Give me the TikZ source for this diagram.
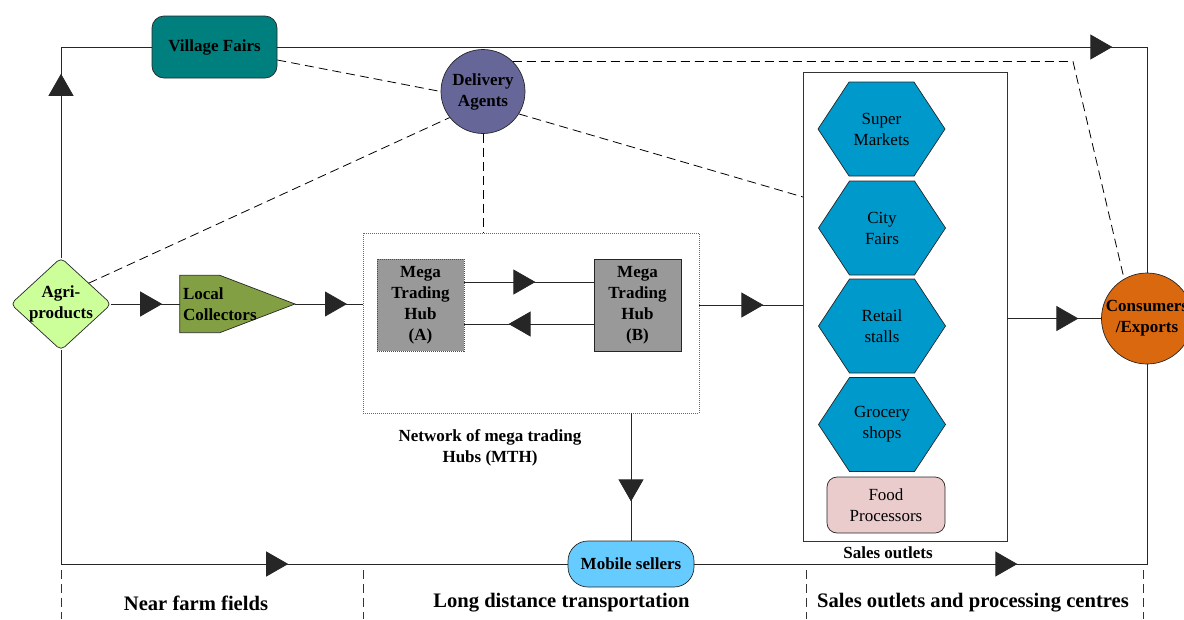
\documentclass[tikz,border=0pt]{standalone}
\usepackage{fontspec}
\setmainfont{Liberation Serif}
\usetikzlibrary{arrows.meta,decorations.markings,calc}
\pgfdeclarelayer{bg}
\pgfsetlayers{bg,main}

\definecolor{cVillage}{HTML}{007F7F}
\definecolor{cDeliv}{HTML}{666699}
\definecolor{cAgri}{HTML}{CCFF99}
\definecolor{cLocal}{HTML}{82A043}
\definecolor{cHub}{HTML}{999999}
\definecolor{cHex}{HTML}{0099CC}
\definecolor{cFood}{HTML}{EBCCCC}
\definecolor{cCons}{HTML}{DA680F}
\definecolor{cMob}{HTML}{66CCFF}
\definecolor{cTri}{HTML}{262626}

\tikzset{
  every node/.style={inner sep=0pt, font=\fontsize{17}{21}\selectfont},
  bold/.style={font=\bfseries\fontsize{17}{21}\selectfont},
  sect/.style={font=\bfseries\fontsize{20.6}{24}\selectfont},
  line/.style={draw=black!85, line width=0.8pt},
  dashline/.style={draw=black, line width=0.8pt, dash pattern=on 9pt off 5pt},
  tri at/.style={postaction={decorate}, decoration={markings,
      mark=at position #1 with {\arrow[fill=cTri,draw=cTri]{Triangle[length=22pt,width=25pt]}}}},
  shapeline/.style={draw=black!85, line width=0.7pt},
  hub/.style={bold, align=center, fill=cHub, minimum width=87pt, minimum height=92pt},
  hexa/.pic={
    \filldraw[fill=cHex, shapeline] (-63.5,0) -- (-32.5,-47) -- (32.5,-47) -- (63.5,0)
      -- (32.5,47) -- (-32.5,47) -- cycle;
    \node[align=center] (-t) {#1};
  },
}

\begin{document}
\begin{tikzpicture}[x=1pt,y=-1pt]
\useasboundingbox (0,0) rectangle (1184,619);

% ---- nodes ----
\node[bold, shapeline, fill=cVillage, rounded corners=12pt,
      minimum width=125pt, minimum height=62pt] (village) at (214.5,47) {Village Fairs};
\node[bold, shapeline, fill=cDeliv, circle, minimum size=84pt, align=center]
      (deliv) at (483,91.5) {Delivery\\Agents};

\node[bold, align=center, minimum width=100pt, minimum height=92pt] (agri) at (61,304) {Agri-\\products};
\begin{pgfonlayer}{bg}
  \filldraw[fill=cAgri, shapeline, rounded corners=5pt]
    (agri.north) -- (agri.east) -- (agri.south) -- (agri.west) -- cycle;
\end{pgfonlayer}

\node[bold, align=left, text width=109pt, minimum height=57pt] (lc) at (237.5,304) {Local\\Collectors};
\coordinate (lctip) at (295,304);
\begin{pgfonlayer}{bg}
  \filldraw[fill=cLocal, shapeline]
    ($(lc.north west)+(-3,0)$) -- ($(lc.north west)+(37,0)$) -- (lctip)
    -- ($(lc.south west)+(37,0)$) -- ($(lc.south west)+(-3,0)$) -- cycle;
\end{pgfonlayer}

\node[draw=black!60, line width=0.8pt, dash pattern=on 1pt off 1pt,
      minimum width=336pt, minimum height=180pt] (mth) at (531,323) {};
\node[hub, draw=black!70, line width=0.8pt, dash pattern=on 1pt off 1pt] (hubA) at (420.5,305) {Mega\\Trading\\Hub\\(A)};
\node[hub, draw=black!85, line width=0.8pt] (hubB) at (637.5,305) {Mega\\Trading\\Hub\\(B)};
\node[bold, align=center] (netlbl) at (490,448) {Network of mega trading\\Hubs (MTH)};

\node[draw=black!80, line width=0.8pt, minimum width=204pt, minimum height=469pt] (sales) at (905,306.5) {};
\node[bold] (saleslbl) at (888,553) {Sales outlets};
\pic (sm) at (881.5,129) {hexa={Super\\Markets}};
\pic (cf) at (882,228) {hexa={City\\Fairs}};
\pic (rs) at (882,326) {hexa={Retail\\stalls}};
\pic (gs) at (882,424.5) {hexa={Grocery\\shops}};
\node[shapeline, fill=cFood, rounded corners=10pt, minimum width=118pt, minimum height=56pt,
      align=center] (food) at (886,505) {Food\\Processors};

\node[shapeline, fill=cCons, circle, minimum size=91pt] (cons) at (1147,318.5) {};
\node[bold, align=center] (cons-t) at (cons) {Consumers\\/Exports};

\node[bold, shapeline, fill=cMob, rounded corners=20pt, minimum width=126pt, minimum height=46pt]
      (mob) at (631,564) {Mobile sellers};

% ---- flows ----
\draw[line, tri at=184pt] (agri.north) |- (village.west);
\draw[line, tri at=835pt] (village.east) -| (cons.north);
\draw[line, tri at=51pt] (agri.east) -- ([xshift=-3pt]lc.west);
\draw[line, tri at=52pt] (lctip) -- (lctip -| mth.west);
\draw[line, tri at=71pt] ([yshift=23pt]hubA.east) -- ([yshift=23pt]hubB.west);
\draw[line, tri at=85pt] ([yshift=-19pt]hubB.west) -- ([yshift=-19pt]hubA.east);
\draw[line, tri at=64pt] (hubB -| mth.east) -- (hubB -| sales.west);
\draw[line, tri at=88pt] (mob.north |- mth.south) -- (mob.north);
\draw[line, tri at=71pt] (cons.west -| sales.east) -- (cons.west);
\draw[line, tri at=441pt] (agri.south) |- (mob.west);
\draw[line, tri at=323pt] (mob.east) -| (cons.south);

% ---- delivery agent links ----
\coordinate (sdash) at (803,197);
\coordinate (dbend) at (1073,61.5);
\draw[dashline] ([yshift=-13pt]village.east) -- (deliv.west);
\draw[dashline] ($(agri.north)!0.55!(agri.east)$) -- (deliv.218);
\draw[dashline] (deliv.south) -- (deliv.south |- mth.north);
\draw[dashline] (deliv.-32) -- (sdash);
\draw[dashline] (deliv.45) -- (dbend) -- (cons.120);

% ---- stages ----
\foreach \x in {61,363,806,1143}
  \draw[dashline, draw=black!80] (\x,570) -- (\x,619);
\node[sect] (st1) at (196,603) {Near farm fields};
\node[sect] (st2) at (561.5,603) {Long distance transportation};
\node[sect] (st3) at (973,603) {Sales outlets and processing centres};
\end{tikzpicture}
\end{document}
